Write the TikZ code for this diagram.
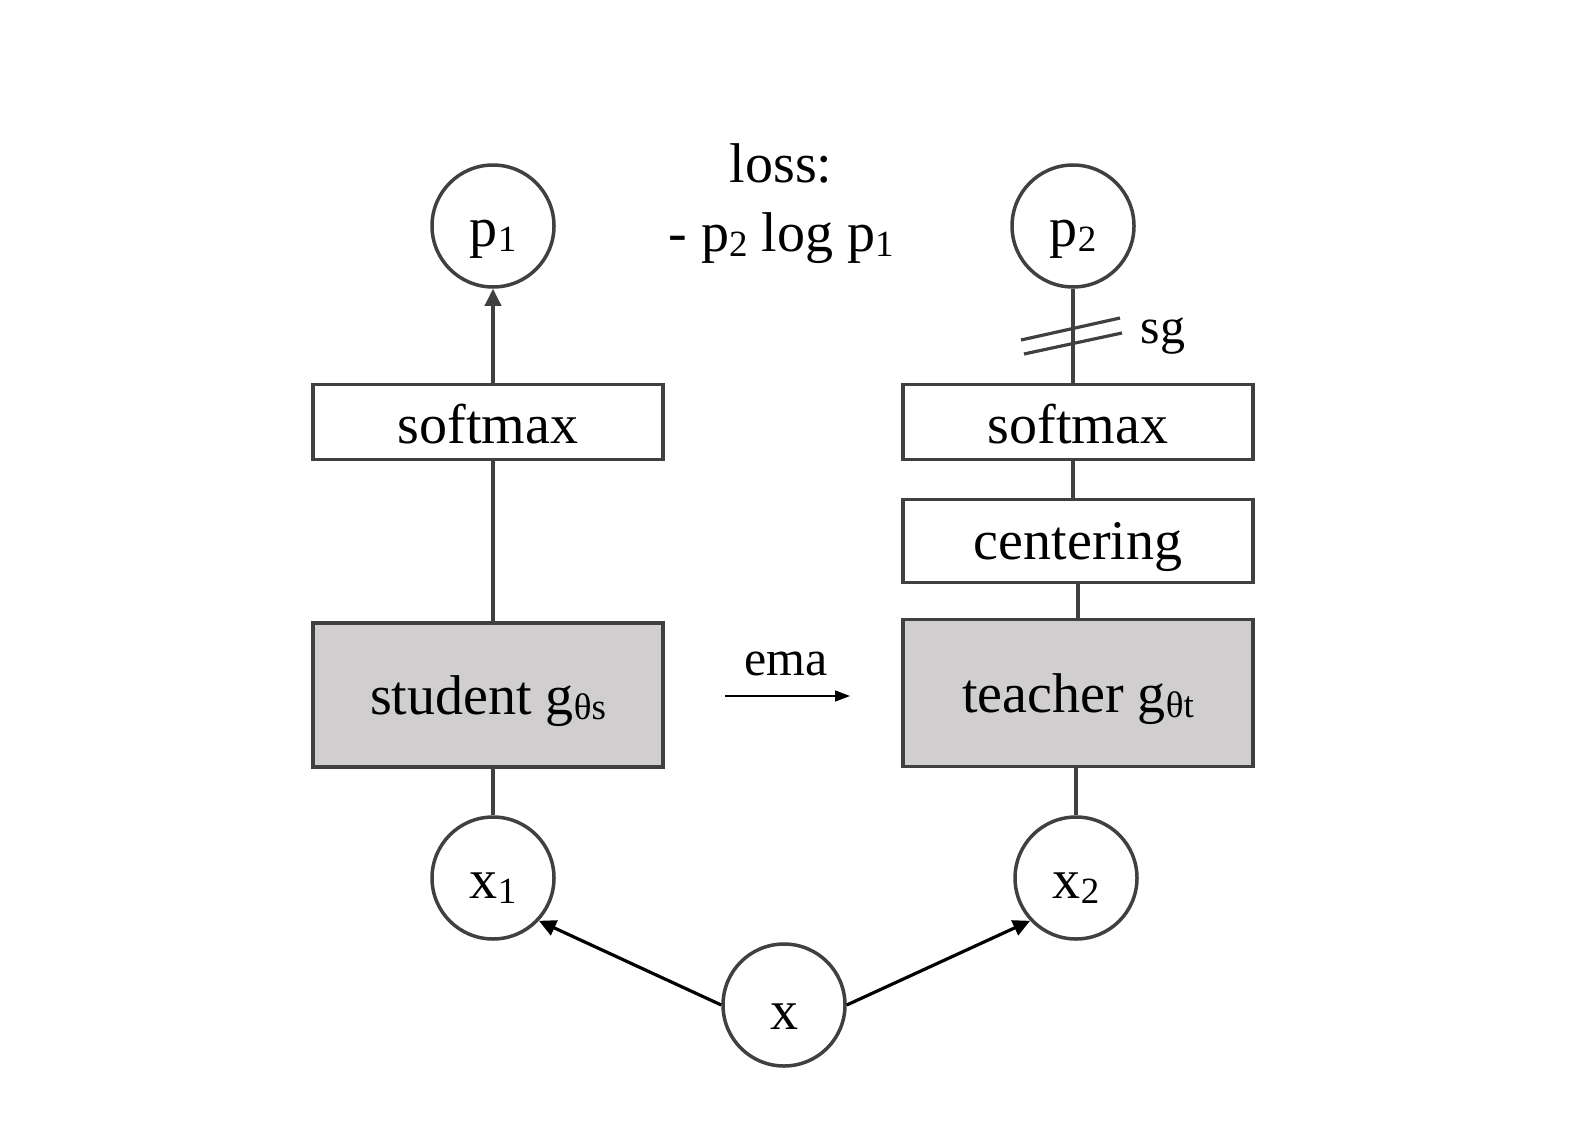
\documentclass[tikz,border=0pt]{standalone}
\usepackage{fontspec}
\setmainfont{Liberation Serif}
\usetikzlibrary{arrows.meta}
\definecolor{lc}{RGB}{64,64,64}
\definecolor{bf}{RGB}{208,206,207}
\newcommand{\mysb}[1]{\raisebox{-5pt}{\fontsize{37}{37}\selectfont #1}}
\newcommand{\dn}[2]{\raisebox{-#1pt}[\height][\depth]{#2}}
\begin{document}
\begin{tikzpicture}[x=1pt,y=-1pt,
  txt/.style={font=\fontsize{56}{62}\selectfont, inner sep=0pt},
  circ/.style={circle, draw=lc, line width=3.5pt, minimum size=122pt, inner sep=0pt, font=\fontsize{56}{62}\selectfont},
  lbox/.style={draw=lc, line width=3.5pt, fill=white, inner sep=0pt, font=\fontsize{56}{62}\selectfont},
  gbox/.style={draw=lc, line width=3.5pt, fill=bf, inner sep=0pt, font=\fontsize{56}{62}\selectfont},
  conn/.style={draw=lc, line width=3.5pt},
  blk/.style={draw=black, line width=3.2pt, -{Triangle[length=17pt,width=16pt]}},
]
\useasboundingbox (0,0) rectangle (1578,1126);
% circles
\node[circ] (p1) at (493,226) {\dn{13}{p\mysb{1}}};
\node[circ] (p2) at (1073,226) {\dn{13}{p\mysb{2}}};
\node[circ] (x1) at (493,878) {\dn{10}{x\mysb{1}}};
\node[circ] (x2) at (1076,878) {\dn{10}{x\mysb{2}}};
\node[circ] (x) at (784,1005) {\dn{12}{x}};
% boxes
\node[lbox, minimum width=350pt, minimum height=75pt] (sm1) at (488,422) {\dn{2}{softmax}};
\node[lbox, minimum width=350pt, minimum height=75pt] (sm2) at (1078,422) {\dn{2}{softmax}};
\node[lbox, minimum width=350pt, minimum height=83pt] (cen) at (1078,541) {\dn{6}{centering}};
\node[gbox, minimum width=350pt, minimum height=144pt] (stu) at (488,695) {\dn{6}{student g\mysb{θs}}};
\node[gbox, minimum width=350pt, minimum height=147pt] (tea) at (1078,693) {\dn{6}{teacher g\mysb{θt}}};
% loss text
\node[txt] (loss1) at (781,163) {loss:};
\node[txt] (loss2) at (781,238) {- p\mysb{2} log p\mysb{1}};
% connectors left
\draw[conn, -{Triangle[length=17pt,width=16pt]}] (sm1.north -| p1) -- (p1.south);
\draw[conn] (stu.north -| p1) -- (sm1.south -| p1);
\draw[conn] (x1.north) -- (stu.south -| x1);
% connectors right
\draw[conn] (p2.south) -- (sm2.north -| p2);
\draw[conn] (sm2.south -| p2) -- (cen.north -| p2);
\draw[conn] (cen.south -| tea) -- (tea.north);
\draw[conn] (tea.south -| x2) -- (x2.north);
% stop-gradient marks
\draw[conn, line width=3.2pt] (1021,340) -- (1120,318);
\draw[conn, line width=3.2pt] (1024,354) -- (1122,333);
\node[txt, font=\fontsize{50}{56}\selectfont] (sg) at (1163,336) {sg};
% ema
\coordinate (emaS) at (725,696);
\coordinate (emaE) at (850,696);
\draw[black, line width=1.5pt, -{Triangle[length=15pt,width=11pt]}] (emaS) -- (emaE);
\node[txt, font=\fontsize{50}{56}\selectfont] (ema) at (786,664) {ema};
% input arrows
\draw[blk] (x.west) -- (x1.-43);
\draw[blk] (x.east) -- (x2.223);
\end{tikzpicture}
\end{document}
